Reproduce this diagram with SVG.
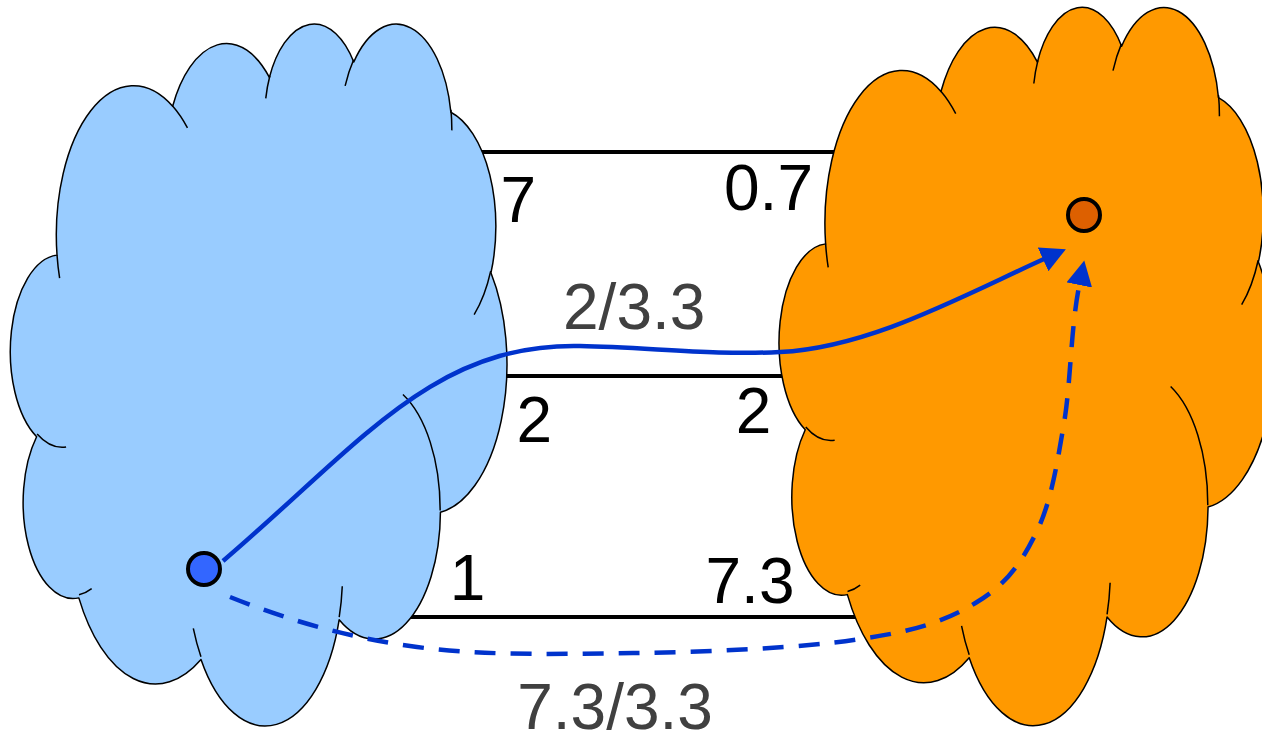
<svg xmlns="http://www.w3.org/2000/svg" width="1262" height="734" viewBox="0 0 1262 734">
<style>
.cloud-outline{stroke:#000;stroke-width:1.5;vector-effect:non-scaling-stroke;stroke-linejoin:round}
.cloud-arc{fill:none;stroke:#000;stroke-width:1.5;vector-effect:non-scaling-stroke}
.bar{stroke:#000;stroke-width:4;fill:none}
.conn{fill:none;stroke:#0033CC;stroke-width:4.5}
.dashed{stroke-dasharray:21 15}
.lbl{font-family:"Liberation Sans",Arial,sans-serif;font-size:64px;fill:#000}
.lbl-g{font-family:"Liberation Sans",Arial,sans-serif;font-size:64px;fill:#404040}
.dot{stroke:#000;stroke-width:4}
</style>
<defs>
<marker id="arr" markerUnits="userSpaceOnUse" markerWidth="26" markerHeight="26" viewBox="0 0 26 26" refX="1" refY="13" orient="auto">
<path d="M0,0 L25,13 L0,26 Z" fill="#0033CC"/>
</marker>
</defs>

<g id="bars">
<line class="bar" x1="470" y1="152" x2="850" y2="152"/>
<line class="bar" x1="495" y1="376" x2="795" y2="376"/>
<line class="bar" x1="400" y1="617" x2="870" y2="617"/>
</g>

<g id="cloud-blue" transform="translate(12.4,21.7) scale(0.011443,0.016244)">
<path class="cloud-outline" fill="#99CCFF" d="M3900,14370 A6753,9190 0 0,1 14005,5203 A5333,7267 0 0,1 22457,3432 A4365,5945 0 0,1 29834,2481 A4857,6595 0 0,1 38319,5576 A5333,7273 0 0,1 41819,15460 A6775,9220 0 0,1 37405,30203 A5785,7867 0 0,1 28557,36814 A6752,9215 0 0,1 16482,39265 A7720,10543 0 0,1 5806,35471 A4360,5918 0 0,1 2115,25549 A4345,5945 0 0,1 3900,14370 Z"/>
<path class="cloud-arc" d="M4693,26177 A4345,5945 0 0,1 2160,25380 M6928,34899 A4360,5918 0 0,1 5820,35280 M16478,39090 A6752,9215 0 0,1 15810,37350 M28827,34751 A6752,9215 0 0,1 28560,36660 M34129,22954 A5785,7867 0 0,1 37380,30090 M41798,15354 A5333,7273 0 0,1 40352,18028 M38324,5426 A4857,6595 0 0,1 38400,6690 M29078,3952 A4857,6595 0 0,1 29820,2341 M22141,4720 A4365,5945 0 0,1 22500,3330 M14000,5192 A6753,9190 0 0,1 15299,6540 M4127,15789 A6753,9190 0 0,1 3900,14370"/>
</g>

<g id="cloud-orange" transform="translate(781.1,5.0) scale(0.011414,0.016623)">
<path class="cloud-outline" fill="#FF9900" d="M3900,14370 A6753,9190 0 0,1 14005,5203 A5333,7267 0 0,1 22457,3432 A4365,5945 0 0,1 29834,2481 A4857,6595 0 0,1 38319,5576 A5333,7273 0 0,1 41819,15460 A6775,9220 0 0,1 37405,30203 A5785,7867 0 0,1 28557,36814 A6752,9215 0 0,1 16482,39265 A7720,10543 0 0,1 5806,35471 A4360,5918 0 0,1 2115,25549 A4345,5945 0 0,1 3900,14370 Z"/>
<path class="cloud-arc" d="M4693,26177 A4345,5945 0 0,1 2160,25380 M6928,34899 A4360,5918 0 0,1 5820,35280 M16478,39090 A6752,9215 0 0,1 15810,37350 M28827,34751 A6752,9215 0 0,1 28560,36660 M34129,22954 A5785,7867 0 0,1 37380,30090 M41798,15354 A5333,7273 0 0,1 40352,18028 M38324,5426 A4857,6595 0 0,1 38400,6690 M29078,3952 A4857,6595 0 0,1 29820,2341 M22141,4720 A4365,5945 0 0,1 22500,3330 M14000,5192 A6753,9190 0 0,1 15299,6540 M4127,15789 A6753,9190 0 0,1 3900,14370"/>
</g>

<g id="connectors">
<path class="conn" marker-end="url(#arr)" d="M223,561 C360,444 433,343 580,346 C647,347 713,355.5 780,352 C870,347.5 962,296 1044,259"/>
<path class="conn dashed" marker-end="url(#arr)" d="M230,597 C290,621 350,638 417,647 C484,656 559,654 633,653 C707,652 803,648 860,639 C917,631 948,620 977,602 C1007,584 1022,562 1037,531 C1052,500 1058,458 1065,417 C1071,376 1071,326 1079.5,284"/>
</g>

<g id="node-source">
<circle class="dot" cx="204" cy="569" r="16" fill="#3366FF"/>
</g>
<g id="node-target">
<circle class="dot" cx="1084" cy="215" r="16" fill="#DD6000"/>
</g>

<g id="labels">
<text class="lbl" x="500.5" y="222">7</text>
<text class="lbl" x="724" y="210">0.7</text>
<text class="lbl-g" x="563" y="328.5">2/3.3</text>
<text class="lbl" x="516.4" y="442">2</text>
<text class="lbl" x="735.8" y="433">2</text>
<text class="lbl" x="449.7" y="600">1</text>
<text class="lbl" x="705.5" y="603">7.3</text>
<text class="lbl-g" x="517.2" y="728.5">7.3/3.3</text>
</g>
</svg>
